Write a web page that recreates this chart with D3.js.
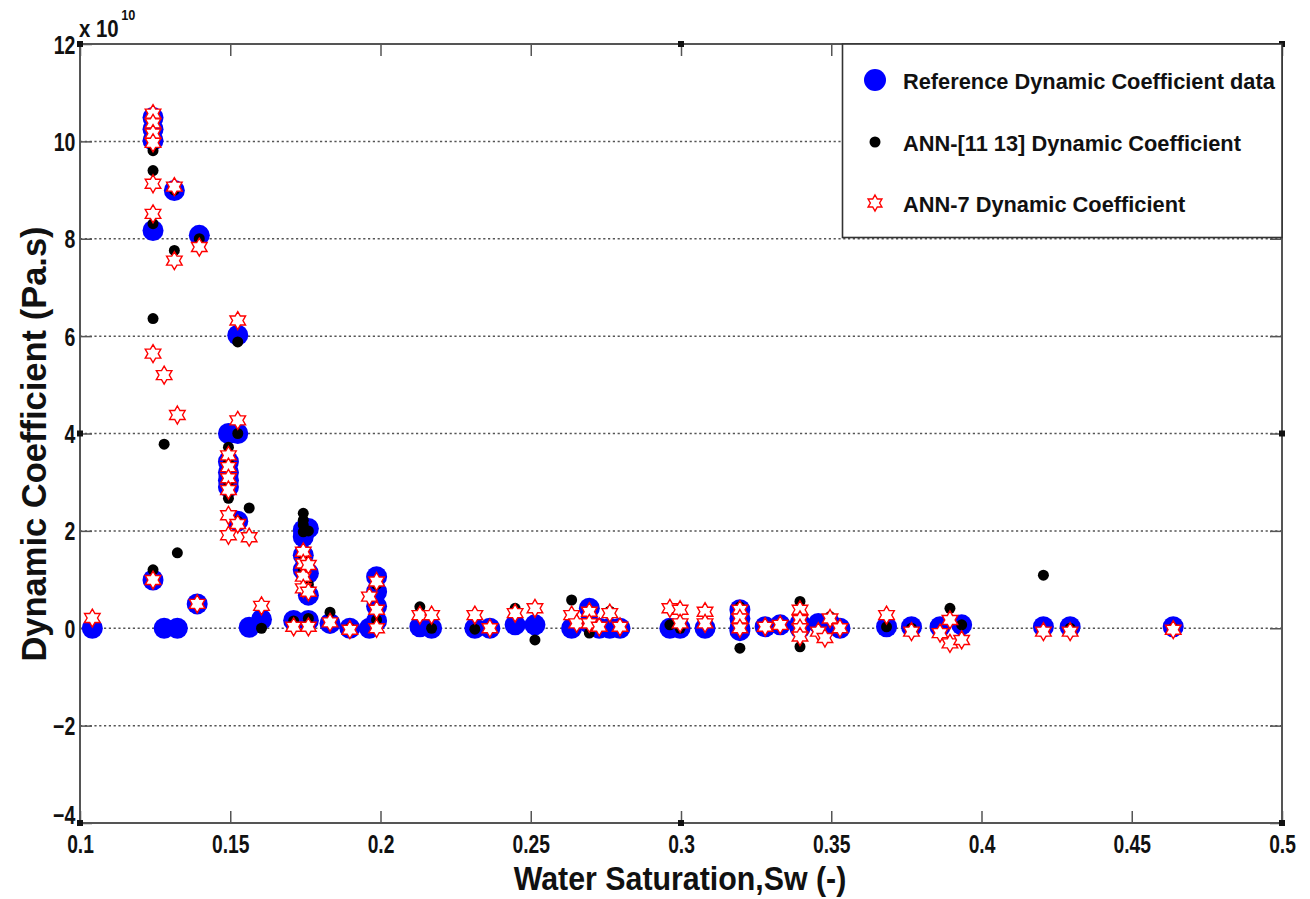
<!DOCTYPE html>
<html>
<head>
<meta charset="utf-8">
<script src="https://cdn.jsdelivr.net/npm/d3@7"></script>
<style>
  body { margin: 0; background: #fff; }
  text { font-family: "Liberation Sans", Arial, sans-serif; font-weight: bold; fill: #111; }
</style>
</head>
<body>
<svg id="chart" width="1310" height="899"></svg>
<script>
// Axis ticks
const xTicks = [0.1, 0.15, 0.2, 0.25, 0.3, 0.35, 0.4, 0.45, 0.5];
const yTicks = [-4, -2, 0, 2, 4, 6, 8, 10, 12];
const yExponent = 10; // dynamic coefficient values below are in units of 1e10 Pa.s

// Reference dynamic coefficient data
const refSw = [
  0.1041, 0.1243, 0.1243, 0.1243, 0.1243, 0.1243, 0.128, 0.1314, 0.1324, 0.139, 0.1397,
  0.1494, 0.1494, 0.1494, 0.1494, 0.1494, 0.1525, 0.1525, 0.1525, 0.1563, 0.1604,
  0.1711, 0.1743, 0.1743, 0.1743, 0.1743, 0.176, 0.176, 0.176, 0.176, 0.1832, 0.1898,
  0.1963, 0.1987, 0.1987, 0.1987, 0.1987, 0.2131, 0.217, 0.2314, 0.2364, 0.2448, 0.2514,
  0.2636, 0.2695, 0.2695, 0.2728, 0.2763, 0.2797, 0.2963, 0.2997, 0.308,
  0.3196, 0.3196, 0.3196, 0.3196, 0.328, 0.333, 0.3396, 0.3396, 0.3457, 0.3479, 0.3496,
  0.3529, 0.3684, 0.3767, 0.3862, 0.3934, 0.4206, 0.4295, 0.4638
];
const refCoef = [
  0, 10.49, 10.25, 10.02, 8.17, 0.99, 0, 8.99, 0, 0.5, 8.07,
  4.0, 3.42, 3.2, 3.04, 2.9, 4.0, 6.02, 2.2, 0.02, 0.18,
  0.16, 2.02, 1.88, 1.5, 1.2, 2.05, 1.13, 0.68, 0.16, 0.1, 0,
  0, 1.06, 0.75, 0.45, 0.15, 0.03, 0, 0, 0, 0.07, 0.07,
  0, 0.41, 0.1, 0, 0, 0, 0, 0, 0,
  0.38, 0.2, 0, -0.05, 0.03, 0.07, 0.1, 0, 0.1, 0.05, 0.1,
  0, 0.03, 0.03, 0.03, 0.07, 0.03, 0.03, 0.03
];

// ANN-[11 13] predictions
const annSw = [
  0.1243, 0.1243, 0.1243, 0.1243, 0.1243, 0.1243, 0.1243, 0.128, 0.1314, 0.1314, 0.1324,
  0.1397, 0.139, 0.1494, 0.1494, 0.1494, 0.1494, 0.1525, 0.1525, 0.1525, 0.1563, 0.1604,
  0.1743, 0.1743, 0.1743, 0.1743, 0.1743, 0.1743, 0.176, 0.176, 0.176, 0.1711, 0.1832,
  0.1898, 0.1987, 0.1987, 0.2131, 0.217, 0.2314, 0.2364, 0.2448, 0.2514, 0.2636,
  0.2695, 0.2695, 0.2763, 0.2963, 0.2997, 0.308, 0.3196, 0.3196, 0.3396, 0.3396,
  0.3496, 0.3684, 0.3767, 0.3895, 0.3934, 0.4206, 0.4295, 0.4638
];
const annCoef = [
  10.4, 10.1, 9.81, 9.4, 8.31, 6.36, 1.2, 3.78, 9.0, 7.76, 1.55,
  8.0, 0.5, 3.72, 3.4, 3.0, 2.67, 5.88, 4.0, 2.2, 2.47, 0,
  2.36, 2.22, 2.12, 1.98, 1.5, 1.2, 2.0, 0.9, 0.2, 0.15, 0.33,
  0, 0.17, 0.9, 0.44, 0, -0.02, 0, 0.41, -0.24, 0.58,
  -0.1, 0.35, 0.35, 0.07, 0, 0.1, 0.44, -0.41, 0.55, -0.38,
  0.24, 0.03, 0, 0.41, 0.07, 1.09, 0, 0
];

// ANN-7 predictions
const ann7Sw = [
  0.1041, 0.1243, 0.1243, 0.1243, 0.1243, 0.1243, 0.1243, 0.1243, 0.1243, 0.128, 0.1314, 0.1314,
  0.1324, 0.139, 0.1397, 0.1494, 0.1494, 0.1494, 0.1494, 0.1494, 0.1494, 0.1525, 0.1525, 0.1525,
  0.1563, 0.1604, 0.1711, 0.1743, 0.1743, 0.1743, 0.1743, 0.176, 0.176, 0.176, 0.1832, 0.1898,
  0.1963, 0.1987, 0.1987, 0.1987, 0.2131, 0.217, 0.2314, 0.2364, 0.2448, 0.2514, 0.2636, 0.2653,
  0.2695, 0.2695, 0.2728, 0.2763, 0.2797, 0.2963, 0.2997, 0.2997, 0.308, 0.308,
  0.3196, 0.3196, 0.3196, 0.328, 0.333, 0.3396, 0.3396, 0.3396, 0.3396, 0.3457, 0.3479, 0.3496,
  0.3529, 0.3684, 0.3767, 0.3862, 0.3895, 0.3895, 0.3934, 0.4206, 0.4295, 0.4638
];
const ann7Coef = [
  0.21, 10.57, 10.37, 10.16, 9.97, 9.13, 8.51, 5.64, 0.99, 5.2, 9.07, 7.55,
  4.38, 0.5, 7.83, 3.55, 3.31, 3.08, 2.84, 2.32, 1.91, 6.32, 4.27, 2.14,
  1.87, 0.46, 0.03, 1.57, 1.33, 1.06, 0.82, 1.3, 0.75, 0.03, 0.12, -0.03,
  0.65, 0.96, 0.38, 0, 0.27, 0.27, 0.27, 0, 0.31, 0.41, 0.27, 0.1,
  0.34, 0.1, 0.03, 0.31, 0.03, 0.41, 0.38, 0.1, 0.34, 0.1,
  0.38, 0.2, 0, 0.03, 0.07, 0.38, 0.17, 0, -0.17, -0.07, -0.2, 0.2,
  0, 0.27, -0.07, -0.1, 0.17, -0.31, -0.24, -0.07, -0.07, -0.03
];

const legendLabels = [
  "Reference Dynamic Coefficient data",
  "ANN-[11 13] Dynamic Coefficient",
  "ANN-7 Dynamic Coefficient"
];

const svg = d3.select("#chart");
const plot = { left: 80, right: 1282, top: 44, bottom: 823 };

const x = d3.scaleLinear().domain([0.1, 0.5]).range([plot.left, plot.right]);
const y = d3.scaleLinear().domain([-4, 12]).range([plot.bottom, plot.top]);

// six-pointed star (two overlapping triangles) outline
function hexagram(R) {
  const r = R / Math.sqrt(3);
  const pts = d3.range(12).map(k => {
    const a = -Math.PI / 2 + k * Math.PI / 6;
    const rad = k % 2 === 0 ? R : r;
    return [rad * Math.cos(a), rad * Math.sin(a)];
  });
  return "M" + pts.map(p => p[0].toFixed(2) + "," + p[1].toFixed(2)).join("L") + "Z";
}
const starPath = hexagram(9);

// horizontal dotted grid
svg.append("g")
  .selectAll("line")
  .data(yTicks.filter(t => t > -4 && t < 12))
  .join("line")
  .attr("x1", plot.left).attr("x2", plot.right)
  .attr("y1", d => y(d)).attr("y2", d => y(d))
  .attr("stroke", "#555").attr("stroke-width", 1.5)
  .attr("stroke-dasharray", "2.2,2.6");

// axes with inward ticks
const fmtX = d3.format("");
const axisB = svg.append("g").attr("transform", `translate(0,${plot.bottom})`)
  .call(d3.axisBottom(x).tickValues(xTicks).tickSizeInner(-12).tickSizeOuter(0).tickPadding(16).tickFormat(fmtX));
const axisT = svg.append("g").attr("transform", `translate(0,${plot.top})`)
  .call(d3.axisTop(x).tickValues(xTicks).tickSizeInner(-12).tickSizeOuter(0).tickFormat(""));
const axisL = svg.append("g").attr("transform", `translate(${plot.left},0)`)
  .call(d3.axisLeft(y).tickValues(yTicks).tickSizeInner(-12).tickSizeOuter(0).tickPadding(8).tickFormat(d3.format("")));
const axisR = svg.append("g").attr("transform", `translate(${plot.right},0)`)
  .call(d3.axisRight(y).tickValues(yTicks).tickSizeInner(-12).tickSizeOuter(0).tickFormat(""));

[axisB, axisT, axisL, axisR].forEach(g => {
  g.select(".domain").remove();
  g.selectAll(".tick line").attr("stroke", "#555").attr("stroke-width", 1.5);
});
axisB.selectAll(".tick text")
  .attr("font-size", 26).attr("fill", "#111").attr("y", 30).attr("dy", 0)
  .attr("transform", "scale(0.74,1)");
axisL.selectAll(".tick text")
  .attr("font-size", 25).attr("fill", "#111").attr("x", -6)
  .attr("dy", d => d === -4 ? "0em" : "0.36em")   // lowest label sits just above the corner
  .attr("transform", "scale(0.78,1)");

// plot frame
svg.append("rect")
  .attr("x", plot.left).attr("y", plot.top)
  .attr("width", plot.right - plot.left).attr("height", plot.bottom - plot.top)
  .attr("fill", "none").attr("stroke", "#555").attr("stroke-width", 2);

// small square handles on the frame
const handles = [[0.1, 12], [0.3, 12], [0.5, 12], [0.1, 4], [0.5, 4], [0.1, -4], [0.3, -4], [0.5, -4]];
svg.append("g").selectAll("rect").data(handles).join("rect")
  .attr("x", d => x(d[0]) - 3).attr("y", d => y(d[1]) - 3)
  .attr("width", 6).attr("height", 6).attr("fill", "#111");

// exponent label
const expo = svg.append("text").attr("x", 79).attr("y", 37).attr("font-size", 24)
  .attr("transform", "translate(79,0) scale(0.85,1) translate(-79,0)");
expo.append("tspan").text("x 10");
expo.append("tspan").attr("dy", -17).attr("dx", 3).attr("font-size", 15).text(yExponent);

// series markers
const ref = d3.zip(refSw, refCoef);
const ann = d3.zip(annSw, annCoef);
const ann7 = d3.zip(ann7Sw, ann7Coef);

svg.append("g").selectAll("circle").data(ref).join("circle")
  .attr("cx", d => x(d[0])).attr("cy", d => y(d[1])).attr("r", 10.5)
  .attr("fill", "#0000ff");

svg.append("g").selectAll("circle").data(ann).join("circle")
  .attr("cx", d => x(d[0])).attr("cy", d => y(d[1])).attr("r", 5.5)
  .attr("fill", "#000");

svg.append("g").selectAll("path").data(ann7).join("path")
  .attr("transform", d => `translate(${x(d[0])},${y(d[1])})`)
  .attr("d", starPath)
  .attr("fill", "#fff").attr("stroke", "#ff0000").attr("stroke-width", 1.4);

// legend
const lg = svg.append("g");
lg.append("rect").attr("x", 842.5).attr("y", plot.top).attr("width", plot.right - 842.5).attr("height", 193.5)
  .attr("fill", "#fff").attr("stroke", "#333").attr("stroke-width", 1.6);
const rowY = [80, 142, 203];
lg.append("circle").attr("cx", 875).attr("cy", rowY[0]).attr("r", 11).attr("fill", "#0000ff");
lg.append("circle").attr("cx", 875).attr("cy", rowY[1]).attr("r", 5.5).attr("fill", "#000");
lg.append("path").attr("transform", `translate(875,${rowY[2]})`).attr("d", hexagram(8))
  .attr("fill", "#fff").attr("stroke", "#ff0000").attr("stroke-width", 1.4);
lg.selectAll("text.lab").data(legendLabels).join("text")
  .attr("class", "lab")
  .attr("x", 903).attr("y", (d, i) => rowY[i] + 9)
  .attr("font-size", 21.8)
  .text(d => d);

// axis titles
svg.append("text")
  .attr("transform", "translate(680,890) scale(0.92,1)")
  .attr("text-anchor", "middle").attr("font-size", 33)
  .text("Water Saturation,Sw (-)");
svg.append("text")
  .attr("transform", "translate(46,444) rotate(-90)")
  .attr("text-anchor", "middle").attr("font-size", 34.5)
  .text("Dynamic Coefficient (Pa.s)");
</script>
</body>
</html>
